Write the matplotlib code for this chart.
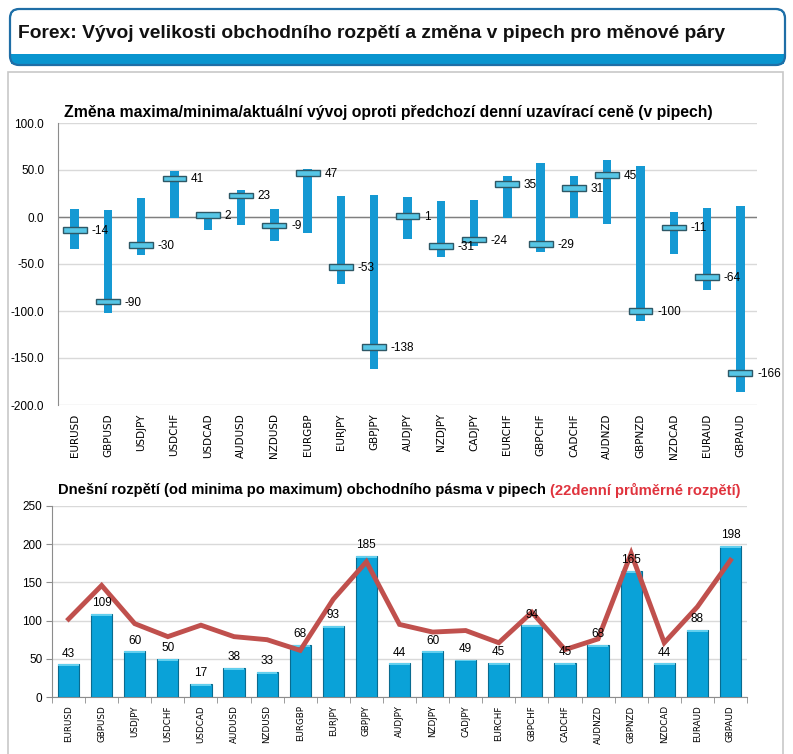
import numpy as np
import matplotlib
matplotlib.use("Agg")
from matplotlib import pyplot as plt
from matplotlib.patches import FancyBboxPatch, Rectangle

plt.rcParams['font.family'] = ['Liberation Sans', 'DejaVu Sans']

pairs = ["EURUSD", "GBPUSD", "USDJPY", "USDCHF", "USDCAD", "AUDUSD", "NZDUSD",
         "EURGBP", "EURJPY", "GBPJPY", "AUDJPY", "NZDJPY", "CADJPY", "EURCHF",
         "GBPCHF", "CADCHF", "AUDNZD", "GBPNZD", "NZDCAD", "EURAUD", "GBPAUD"]

# top chart: change of high / low / current vs previous close (pips)
highs = [9, 7, 20, 49, 3, 29, 8, 51, 22, 23, 21, 17, 18, 44, 57, 44, 61, 54, 5, 10, 12]
lows = [-34, -102, -40, -1, -14, -9, -25, -17, -71, -162, -23, -43, -31, -1, -37, -1, -7, -111, -39, -78, -186]
current = [-14, -90, -30, 41, 2, 23, -9, 47, -53, -138, 1, -31, -24, 35, -29, 31, 45, -100, -11, -64, -166]

# bottom chart: today's range and 22-day average range (pips)
day_range = [43, 109, 60, 50, 17, 38, 33, 68, 93, 185, 44, 60, 49, 45, 94, 45, 68, 165, 44, 88, 198]
avg22 = [102, 146, 96, 79, 94, 79, 75, 61, 128, 177, 95, 85, 87, 71, 111, 62, 76, 188, 71, 118, 179]

W, H = 793, 754
fig = plt.figure(figsize=(W / 100, H / 100), dpi=100)

# background layer in pixel coordinates
bg = fig.add_axes([0, 0, 1, 1], zorder=-5)
bg.set_xlim(0, W)
bg.set_ylim(H, 0)
bg.axis("off")

bg.add_patch(Rectangle((8, 72), 775, 700, fc="white", ec="#c8c8c8", lw=1.2))

# header box
blue = "#0995cf"
bg.add_patch(FancyBboxPatch((10, 9), 775, 56, boxstyle="round,pad=0,rounding_size=9",
                            fc=blue, ec="none"))
bg.add_patch(FancyBboxPatch((11, 10), 773, 50, boxstyle="round,pad=0,rounding_size=8",
                            fc="white", ec="none"))
bg.add_patch(Rectangle((11, 54), 773, 10, fc=blue, ec="none"))
bg.add_patch(FancyBboxPatch((10, 9), 775, 56, boxstyle="round,pad=0,rounding_size=9",
                            fc="none", ec="#1f6ea6", lw=1.6))
bg.text(18, 33, "Forex: Vývoj velikosti obchodního rozpětí a změna v pipech pro měnové páry",
        fontsize=13.9, fontweight="bold", va="center", ha="left", color="#111111")

x = np.arange(len(pairs))
grid_c = "#d9d9d9"
axis_c = "#8c8c8c"

# ---- top chart ----
ax1 = fig.add_axes([58 / W, 1 - 405 / H, 699 / W, 282 / H])
ax1.bar(x, np.array(highs) - np.array(lows), bottom=lows, width=0.25, color="#1599d3", zorder=3)
ax1.bar(x, 6, bottom=np.array(current) - 3, width=0.72, color="#56c6e6",
        edgecolor="#2e5866", linewidth=1.0, zorder=4)
for i, c in enumerate(current):
    ax1.text(i + 0.5, c - 1, str(c), fontsize=8.5, va="center", ha="left", zorder=5)
ax1.axhline(0, color="#7f7f7f", lw=1, zorder=2)
ax1.set_ylim(-200, 100)
ax1.set_xlim(-0.5, len(pairs) - 0.5)
ax1.set_yticks(np.arange(-200, 101, 50))
ax1.set_yticklabels(["%.1f" % v for v in np.arange(-200, 101, 50)], fontsize=8.5)
ax1.yaxis.grid(True, color=grid_c, lw=1)
ax1.set_axisbelow(True)
ax1.set_xticks(x)
ax1.set_xticklabels(pairs, rotation=90, fontsize=7.5, family="DejaVu Sans")
ax1.tick_params(axis="x", length=0, pad=6)
ax1.tick_params(axis="y", length=0, pad=10)
for s in ["top", "right", "bottom"]:
    ax1.spines[s].set_visible(False)
ax1.spines["left"].set_color(axis_c)
bg.text(388, 112, "Změna maxima/minima/aktuální vývoj oproti předchozí denní uzavírací ceně (v pipech)",
        fontsize=11.3, fontweight="bold", va="center", ha="center")

# ---- bottom chart ----
ax2 = fig.add_axes([52 / W, 1 - 697 / H, 695 / W, 191 / H])
ax2.bar(x, day_range, width=0.64, color="#0aa2d8", edgecolor="#0a6b8f", linewidth=0.8, zorder=3)
ax2.bar(x, 2.5, bottom=np.array(day_range) - 2.5, width=0.62, color="#62cfee", zorder=3.5)
for i, v in enumerate(day_range):
    ax2.text(i, v + 6, str(v), fontsize=8.5, ha="center", va="bottom", zorder=6)
ax2.plot(x, avg22, color="#c0504d", lw=3.5, zorder=5, solid_joinstyle="miter")
ax2.set_ylim(0, 250)
ax2.set_xlim(-0.5, len(pairs) - 0.5)
ax2.set_yticks(np.arange(0, 251, 50))
ax2.tick_params(axis="y", labelsize=8.5, length=4, color=axis_c, pad=3)
ax2.set_xticks(x)
ax2.set_xticklabels(pairs, rotation=90, fontsize=6.3, family="DejaVu Sans")
ax2.set_xticks(np.arange(-0.5, len(pairs)), minor=True)
ax2.tick_params(axis="x", which="major", length=0, pad=6)
ax2.tick_params(axis="x", which="minor", length=4, color=axis_c)
ax2.yaxis.grid(True, color=grid_c, lw=1)
ax2.set_axisbelow(True)
for s in ["top", "right"]:
    ax2.spines[s].set_visible(False)
ax2.spines["left"].set_color(axis_c)
ax2.spines["bottom"].set_color(axis_c)

t1 = bg.text(58, 490, "Dnešní rozpětí (od minima po maximum) obchodního pásma v pipech ",
             fontsize=10.6, fontweight="bold", va="center", ha="left")
bg.annotate("(22denní průměrné rozpětí)", xy=(1, 0.5), xycoords=t1, va="center", ha="left",
            fontsize=10.6, fontweight="bold", color="#e0333d")

fig.savefig("out.png", dpi=100)
